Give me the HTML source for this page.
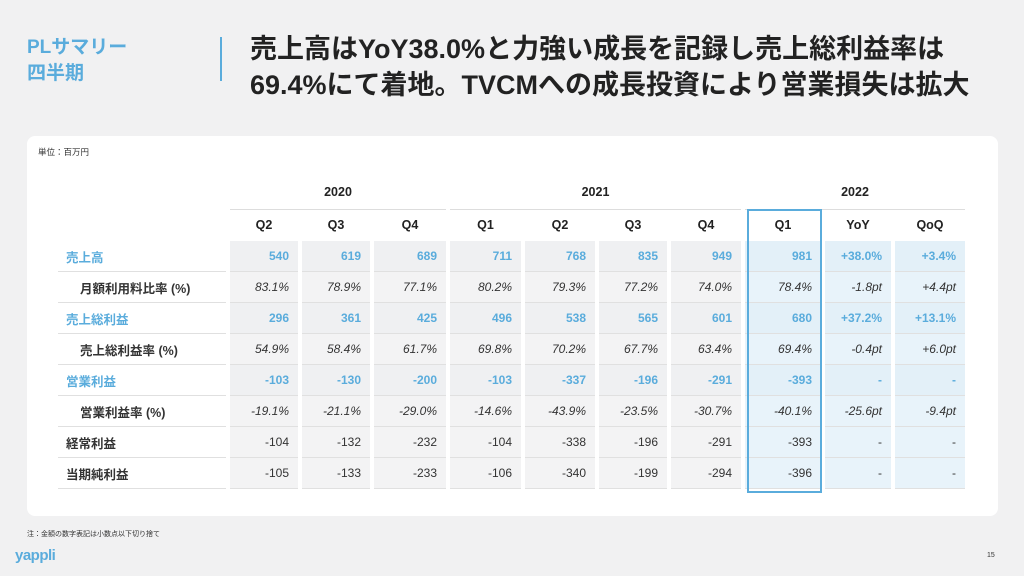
<!DOCTYPE html>
<html><head><meta charset="utf-8"><style>
*{margin:0;padding:0;box-sizing:border-box}
body{width:1024px;height:576px;background:#f1f1f2;font-family:"Liberation Sans","Noto Sans CJK JP",sans-serif;position:relative;overflow:hidden;color:#222}
.ab{position:absolute}
.card{left:27px;top:136px;width:971px;height:380px;background:#fff;border-radius:8px}
table{position:absolute;left:54px;top:241px;border-collapse:separate;border-spacing:4px 0}
td{height:31px;font-size:12px;text-align:right;padding-right:9px;background:#f3f3f4;border-bottom:1px solid #e0e0e0;font-style:italic;color:#333}
td.l{background:#fff;text-align:left;font-style:normal;font-weight:bold;padding-left:0;font-size:12.5px}
tr.b td{color:#5aacdc;font-weight:bold;font-style:normal;background:#eff0f2}
tr.b td.l{background:#fff}
tr.n td{font-style:normal}
td.i{padding-left:22px!important}
td.c{background:#e8f3fa!important}
tr.b td.c{background:#e3f0f8!important}
.hd{font-size:12.5px;font-weight:bold;text-align:center;color:#222}
</style></head><body>
<div class="ab" style="left:27px;top:35px;font-size:19px;font-weight:bold;color:#5aacdc;line-height:26px">PLサマリー<br>四半期</div>
<div class="ab" style="left:220px;top:37px;width:2px;height:44px;background:#5aacdc"></div>
<div class="ab" style="left:250px;top:31px;font-size:27px;font-weight:bold;color:#222;line-height:36px;white-space:nowrap">売上高はYoY38.0%と力強い成長を記録し売上総利益率は<br>69.4%にて着地。TVCMへの成長投資により営業損失は拡大</div>
<div class="ab card"></div>
<div class="ab" style="left:38px;top:146px;font-size:8.5px;color:#333">単位：百万円</div>
<div class="ab hd" style="left:230px;top:185px;width:216px">2020</div>
<div class="ab hd" style="left:450px;top:185px;width:291px">2021</div>
<div class="ab hd" style="left:745px;top:185px;width:220px">2022</div>
<div class="ab" style="left:230px;top:209px;width:216px;height:1px;background:#ddd"></div>
<div class="ab" style="left:450px;top:209px;width:291px;height:1px;background:#ddd"></div>
<div class="ab" style="left:745px;top:209px;width:220px;height:1px;background:#ddd"></div>
<div class="ab hd" style="left:230px;top:218px;width:68px">Q2</div>
<div class="ab hd" style="left:302px;top:218px;width:68px">Q3</div>
<div class="ab hd" style="left:374px;top:218px;width:72px">Q4</div>
<div class="ab hd" style="left:450px;top:218px;width:71px">Q1</div>
<div class="ab hd" style="left:525px;top:218px;width:70px">Q2</div>
<div class="ab hd" style="left:599px;top:218px;width:68px">Q3</div>
<div class="ab hd" style="left:671px;top:218px;width:70px">Q4</div>
<div class="ab hd" style="left:745px;top:218px;width:76px">Q1</div>
<div class="ab hd" style="left:825px;top:218px;width:66px">YoY</div>
<div class="ab hd" style="left:895px;top:218px;width:70px">QoQ</div>
<table>
<colgroup><col style="width:168px"><col style="width:68px"><col style="width:68px"><col style="width:72px"><col style="width:71px"><col style="width:70px"><col style="width:68px"><col style="width:70px"><col style="width:76px"><col style="width:66px"><col style="width:70px"></colgroup>
<tr class="b"><td class="l" style="padding-left:8px">売上高</td><td>540</td><td>619</td><td>689</td><td>711</td><td>768</td><td>835</td><td>949</td><td class="c">981</td><td class="c">+38.0%</td><td class="c">+3.4%</td></tr>
<tr><td class="l i">月額利用料比率 (%)</td><td>83.1%</td><td>78.9%</td><td>77.1%</td><td>80.2%</td><td>79.3%</td><td>77.2%</td><td>74.0%</td><td class="c">78.4%</td><td class="c">-1.8pt</td><td class="c">+4.4pt</td></tr>
<tr class="b"><td class="l" style="padding-left:8px">売上総利益</td><td>296</td><td>361</td><td>425</td><td>496</td><td>538</td><td>565</td><td>601</td><td class="c">680</td><td class="c">+37.2%</td><td class="c">+13.1%</td></tr>
<tr><td class="l i">売上総利益率 (%)</td><td>54.9%</td><td>58.4%</td><td>61.7%</td><td>69.8%</td><td>70.2%</td><td>67.7%</td><td>63.4%</td><td class="c">69.4%</td><td class="c">-0.4pt</td><td class="c">+6.0pt</td></tr>
<tr class="b"><td class="l" style="padding-left:8px">営業利益</td><td>-103</td><td>-130</td><td>-200</td><td>-103</td><td>-337</td><td>-196</td><td>-291</td><td class="c">-393</td><td class="c">-</td><td class="c">-</td></tr>
<tr><td class="l i">営業利益率 (%)</td><td>-19.1%</td><td>-21.1%</td><td>-29.0%</td><td>-14.6%</td><td>-43.9%</td><td>-23.5%</td><td>-30.7%</td><td class="c">-40.1%</td><td class="c">-25.6pt</td><td class="c">-9.4pt</td></tr>
<tr class="n"><td class="l" style="padding-left:8px">経常利益</td><td>-104</td><td>-132</td><td>-232</td><td>-104</td><td>-338</td><td>-196</td><td>-291</td><td class="c">-393</td><td class="c">-</td><td class="c">-</td></tr>
<tr class="n"><td class="l" style="padding-left:8px">当期純利益</td><td>-105</td><td>-133</td><td>-233</td><td>-106</td><td>-340</td><td>-199</td><td>-294</td><td class="c">-396</td><td class="c">-</td><td class="c">-</td></tr>
</table>
<div class="ab" style="left:747px;top:209px;width:75px;height:284px;border:2px solid #5aacdc"></div>
<div class="ab" style="left:27px;top:529px;font-size:7px;color:#333">注：金額の数字表記は小数点以下切り捨て</div>
<div class="ab" style="left:15px;top:547px;font-size:15px;font-weight:bold;color:#5aacdc;letter-spacing:-0.5px">yappli</div>
<div class="ab" style="left:987px;top:552px;font-size:7px;color:#333">15</div>
</body></html>
